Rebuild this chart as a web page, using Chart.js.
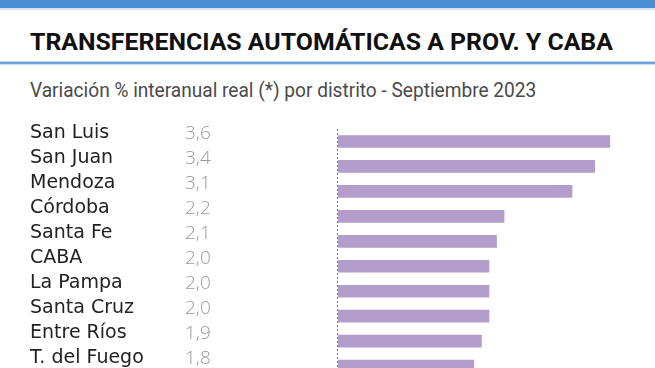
<!DOCTYPE html>
<html>
<head>
<meta charset="utf-8">
<script src="https://cdn.jsdelivr.net/npm/chart.js@4"></script>
<style>
  html, body { margin: 0; padding: 0; width: 655px; height: 368px; overflow: hidden; background: #fff; }
  #topbar { position: absolute; left: 0; top: 0; width: 655px; height: 8px; background: #4a8fd4; border-bottom: 2px solid #d3e3f4; }
  #rule { position: absolute; left: 0; top: 61px; width: 655px; height: 2px; background: #6fa5dc; border-top: 1px solid #b9d4ef; border-bottom: 1px solid #c9ddf2; }
  .fit { position: absolute; left: 30px; white-space: nowrap; transform-origin: 0 0; }
  #title { top: 30px; font: 700 24px/24px Roboto, sans-serif; color: #111; }
  #subtitle { top: 80px; font: 400 20px/20px Roboto, sans-serif; color: #4a4a4a; }
  #wrap { position: absolute; left: 0; top: 0; width: 655px; height: 390px; }
</style>
</head>
<body>
<div id="topbar"></div>
<span id="title" class="fit" data-w="583">TRANSFERENCIAS AUTOMÁTICAS A PROV. Y CABA</span>
<div id="rule"></div>
<span id="subtitle" class="fit" data-w="506">Variación % interanual real (*) por distrito - Septiembre 2023</span>
<div id="wrap"><canvas id="myChart"></canvas></div>
<script>
const districts = ['San Luis', 'San Juan', 'Mendoza', 'Córdoba', 'Santa Fe', 'CABA', 'La Pampa', 'Santa Cruz', 'Entre Ríos', 'T. del Fuego'];
const variation = [3.6, 3.4, 3.1, 2.2, 2.1, 2.0, 2.0, 2.0, 1.9, 1.8];

// squeeze header texts to the width they have in the picture
document.querySelectorAll('.fit').forEach(el => {
    const k = Number(el.dataset.w) / el.offsetWidth;
    el.style.transform = `scaleX(${k})`;
});

const labelShift = -8;

// the numbers column between names and bars
const valueColumn = {
    id: 'valueColumn',
    afterDraw(chart) {
        const ctx = chart.ctx;
        const yScale = chart.scales.y;
        ctx.save();
        ctx.font = '300 19px "Open Sans", sans-serif';
        ctx.fillStyle = '#9a9a9a';
        ctx.textAlign = 'left';
        ctx.textBaseline = 'middle';
        variation.forEach((v, i) => {
            ctx.fillText(v.toFixed(1).replace('.', ','), 185, yScale.getPixelForValue(i) + labelShift);
        });
        ctx.restore();
    }
};

// dotted zero line on the left edge of the plot
const dottedAxis = {
    id: 'dottedAxis',
    beforeDatasetsDraw(chart) {
        const {ctx, chartArea} = chart;
        const x = Math.round(chart.scales.x.getPixelForValue(0)) - 0.5;
        ctx.save();
        ctx.strokeStyle = '#7a7a7a';
        ctx.lineWidth = 1;
        ctx.setLineDash([2, 2]);
        ctx.beginPath();
        ctx.moveTo(x, chartArea.top);
        ctx.lineTo(x, chartArea.bottom);
        ctx.stroke();
        ctx.restore();
    }
};

const ctx = document.getElementById('myChart').getContext('2d');
new Chart(ctx, {
    type: 'bar',
    data: {
        labels: districts,
        datasets: [{
            data: variation,
            backgroundColor: '#b39dcb',
            borderWidth: 0,
            barThickness: 12
        }]
    },
    options: {
        indexAxis: 'y',
        responsive: true,
        maintainAspectRatio: false,
        animation: false,
        layout: { padding: { top: 129, left: 30, right: 15, bottom: 5 } },
        plugins: {
            legend: { display: false },
            tooltip: { enabled: false }
        },
        scales: {
            x: { display: false, min: 0, max: 4 },
            y: {
                position: 'left',
                grid: { display: false },
                border: { display: false },
                ticks: {
                    autoSkip: false,
                    crossAlign: 'far',
                    labelOffset: labelShift,
                    padding: 0,
                    color: '#222',
                    font: { family: '"DejaVu Sans", sans-serif', size: 19 }
                },
                afterFit: (scale) => { scale.width = 308; }
            }
        }
    },
    plugins: [valueColumn, dottedAxis]
});
</script>
</body>
</html>
